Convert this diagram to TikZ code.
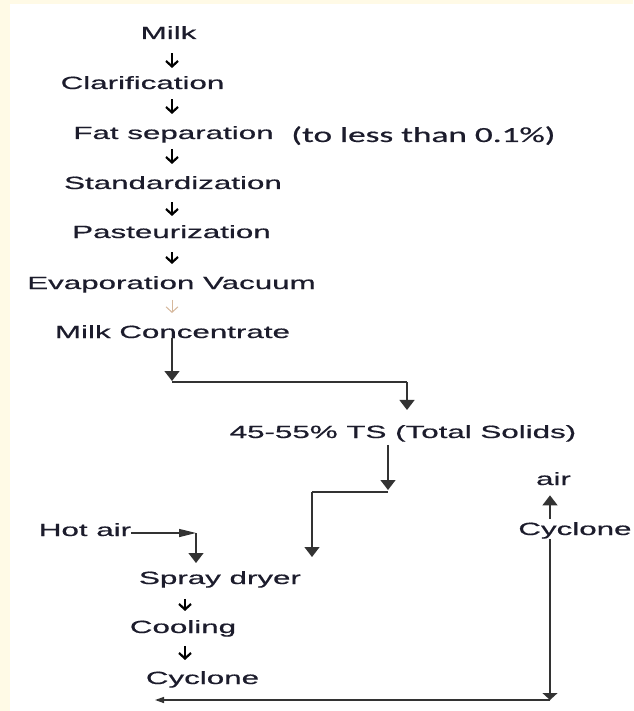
\documentclass[tikz,border=0pt]{standalone}
\usepackage{fontspec}
\setmainfont{Liberation Sans}[FakeBold=0.5]
\newfontfamily\notefont{Carlito}[FakeBold=0.5]
\usetikzlibrary{arrows.meta}
\definecolor{cream}{RGB}{255,250,230}
\definecolor{faint}{RGB}{214,184,156}
\definecolor{txt}{RGB}{28,28,44}

\begin{document}
\begin{tikzpicture}[x=1pt,y=-1pt,
  lbl/.style={inner sep=0pt,anchor=base,xscale=1.77,text=txt,font=\fontsize{17.7}{20}\selectfont},
  steparr/.style={line width=2.2pt,-{Straight Barb[length=5.5pt,width=12pt]}},
  flow/.style={line width=1.3pt,black!80},
  vhead/.style={-{Triangle[length=10pt,width=15pt]}},
  hhead/.style={-{Triangle[length=17pt,width=8pt]}}]
\fill[cream] (0,0) rectangle (633,711);
\fill[white] (10,4) rectangle (633,711);
\useasboundingbox (0,0) rectangle (633,711);

% main line
\node[lbl] (milk) at (168.5,39) {Milk};
\node[lbl] (clar) at (142.5,89) {Clarification};
\node[lbl] (fat) at (173.5,139) {Fat separation};
\node[inner sep=0pt,anchor=base west,xscale=1.64,text=txt,font=\notefont\fontsize{21.5}{24}\selectfont] (note) at (291,142) {(to less than 0.1\%)};
\node[lbl] (std) at (173,189) {Standardization};
\node[lbl] (past) at (171.5,238) {Pasteurization};
\node[lbl] (evap) at (171.5,289) {Evaporation Vacuum};
\node[lbl] (conc) at (172.5,338) {Milk Concentrate};
\node[lbl] (ts) at (403,438) {45-55\% TS (Total Solids)};

% drying part
\node[lbl] (air) at (553.5,485) {air};
\node[lbl,anchor=base west] (cyc2) at (518,535) {Cyclone};
\node[lbl] (hot) at (85,536) {Hot air};
\node[lbl] (spray) at (220,584) {Spray dryer};
\node[lbl] (cool) at (183,633) {Cooling};
\node[lbl] (cyc1) at (202.5,684) {Cyclone};

\coordinate (col) at (172,0);
\coordinate (col2) at (185,0);
\draw[steparr,shorten <=14pt,shorten >=8pt] (milk.south -| col) -- (clar.north -| col);
\draw[steparr,shorten <=10pt,shorten >=12pt] (clar.south -| col) -- (fat.north -| col);
\draw[steparr,shorten <=6pt,shorten >=12pt] (fat.south -| col) -- (std.north -| col);
\draw[steparr,shorten <=13pt,shorten >=9pt] (std.south -| col) -- (past.north -| col);
\draw[steparr,shorten <=14pt,shorten >=12pt] (past.south -| col) -- (evap.north -| col);
\draw[steparr,faint,line width=1pt,shorten <=7pt,shorten >=12pt] (evap.south -| col) -- (conc.north -| col);
\draw[steparr,shorten <=11pt,shorten >=9pt] (spray.south -| col2) -- (cool.north -| col2);
\draw[steparr,shorten <=9pt,shorten >=11pt] (cool.south -| col2) -- (cyc1.north -| col2);

% connectors
\coordinate (a1) at (172,381);
\coordinate (a2) at (407,382);
\draw[flow,vhead] (conc.south -| col) -- (a1);
\draw[flow] (a1 |- a2) -- (a2);
\draw[flow,vhead,shorten >=15pt] (a2) -- (ts.north -| a2);

\coordinate (b1) at (388,490);
\coordinate (b2) at (388,492);
\coordinate (b3) at (312,492);
\coordinate (b4) at (312,557);
\draw[flow,vhead,shorten <=3pt] (ts.south -| b1) -- (b1);
\draw[flow] (b2) -- (b3);
\draw[flow,vhead] (b3) -- (b4);

\coordinate (h1) at (196,533);
\coordinate (h2) at (196,563);
\draw[flow,hhead] (hot.east |- h1) -- (h1);
\draw[flow,vhead] (h1) -- (h2);

\coordinate (r1) at (550,700);
\coordinate (l1) at (155,700);
\draw[flow,vhead,shorten <=3pt,shorten >=10pt] (cyc2.north -| r1) -- (air.south -| r1);
\draw[flow,-{Triangle[length=7pt,width=15pt]}] (cyc2.south -| r1) -- (r1);
\draw[flow,-{Triangle[length=9pt,width=6pt]}] (r1) -- (l1);
\end{tikzpicture}
\end{document}
